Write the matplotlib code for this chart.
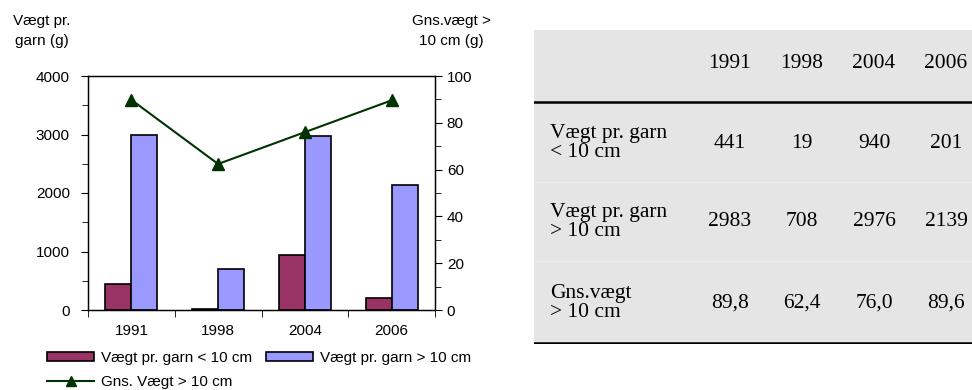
import matplotlib
matplotlib.use('Agg')
import matplotlib.pyplot as plt
import numpy as np
from matplotlib.lines import Line2D
from matplotlib.patches import Patch
from matplotlib.ticker import MultipleLocator

years = ['1991', '1998', '2004', '2006']
small_fish = [441, 19, 940, 201]        # Vægt pr. garn < 10 cm
large_fish = [2983, 708, 2976, 2139]    # Vægt pr. garn > 10 cm
mean_weight = [89.8, 62.4, 76.0, 89.6]  # Gns. vægt > 10 cm
mean_labels = ['89,8', '62,4', '76,0', '89,6']

row_labels = ['Vægt pr. garn\n< 10 cm', 'Vægt pr. garn\n> 10 cm', 'Gns.vægt\n> 10 cm']

MAROON = '#993366'
LAVENDER = '#9999FF'
GREEN = '#003300'

plt.rcParams['font.family'] = ['Liberation Sans', 'DejaVu Sans']
plt.rcParams['font.size'] = 11

W, H = 972, 390
fig = plt.figure(figsize=(W / 100, H / 100), dpi=100)


def px_box(x0, y0, x1, y1):
    return [x0 / W, 1 - y1 / H, (x1 - x0) / W, (y1 - y0) / H]


# --- combo chart -----------------------------------------------------------
ax = fig.add_axes(px_box(88, 76, 435, 310))
x = np.arange(len(years))
bw = 0.3
ax.bar(x - bw / 2, small_fish, bw, color=MAROON, edgecolor='black', linewidth=1.2)
ax.bar(x + bw / 2, large_fish, bw, color=LAVENDER, edgecolor='black', linewidth=1.2)
ax.set_xlim(-0.5, len(years) - 0.5)
ax.set_ylim(0, 4000)
ax.yaxis.set_major_locator(MultipleLocator(1000))
ax.yaxis.set_minor_locator(MultipleLocator(500))
ax.set_xticks(x)
ax.set_xticklabels(years)
ax.set_xticks(np.arange(-0.5, len(years)), minor=True)
ax.tick_params(axis='x', which='major', length=0, pad=10)
ax.tick_params(axis='x', which='minor', length=5, direction='out')
ax.tick_params(axis='y', which='major', length=5, direction='out', pad=8)
ax.tick_params(axis='y', which='minor', length=4, direction='out')

ax2 = ax.twinx()
ax2.plot(x, mean_weight, color=GREEN, linewidth=1.5, marker='^', markersize=9)
ax2.set_ylim(0, 100)
ax2.yaxis.set_major_locator(MultipleLocator(20))
ax2.yaxis.set_minor_locator(MultipleLocator(10))
ax2.tick_params(axis='y', which='major', length=5, direction='out')
ax2.tick_params(axis='y', which='minor', length=4, direction='out')

for a in (ax, ax2):
    for s in a.spines.values():
        s.set_linewidth(0.9)

fig.text(42 / W, 1 - 31 / H, 'Vægt pr.\ngarn (g)', ha='center', va='center',
         linespacing=1.55)
fig.text(451 / W, 1 - 31 / H, 'Gns.vægt >\n10 cm (g)', ha='center', va='center',
         linespacing=1.55)

handles = [
    Patch(facecolor=MAROON, edgecolor='black', linewidth=1.2),
    Line2D([], [], color=GREEN, linewidth=1.5, marker='^', markersize=7),
    Patch(facecolor=LAVENDER, edgecolor='black', linewidth=1.2),
]
labels = ['Vægt pr. garn < 10 cm', 'Gns. Vægt > 10 cm', 'Vægt pr. garn > 10 cm']
fig.legend(handles, labels, ncol=2, loc='center left',
           bbox_to_anchor=(47 / W, 1 - 370 / H), frameon=False, fontsize=11,
           handlelength=3.1, handleheight=0.5, handletextpad=0.45,
           columnspacing=0.9, labelspacing=0.7, borderpad=0, borderaxespad=0)

# --- data table ------------------------------------------------------------
tx0, ty0, tx1, ty1 = 534, 30, 972, 344
tab = fig.add_axes(px_box(tx0, ty0, tx1, ty1))
tab.set_xlim(tx0, tx1)
tab.set_ylim(ty1, ty0)
tab.axis('off')
tab.add_patch(plt.Rectangle((tx0, ty0), tx1 - tx0, ty1 - ty0,
                            facecolor='#E5E5E5', edgecolor='none', zorder=0))

col_x = [730, 802, 874, 946]
row_y = [143, 222, 303]
serif = ['Liberation Serif', 'DejaVu Serif']
tsize = 15.5

for cx, yr in zip(col_x, years):
    tab.text(cx, 63, yr, ha='center', va='center', family=serif, fontsize=tsize)

table_rows = [
    [str(v) for v in small_fish],
    [str(v) for v in large_fish],
    mean_labels,
]
for ry, lab, vals in zip(row_y, row_labels, table_rows):
    tab.text(550, ry, lab, ha='left', va='center', family=serif, fontsize=tsize,
             linespacing=1.05)
    for cx, v in zip(col_x, vals):
        tab.text(cx, ry, v, ha='center', va='center', family=serif, fontsize=tsize)

# faint cell separators
for sy in (182, 261):
    tab.plot([tx0, tx1], [sy, sy], color='#EDEDED', linewidth=1, zorder=1)
tab.plot([tx0, tx1], [102, 102], color='black', linewidth=1.8, zorder=2)
tab.plot([tx0, tx1], [343, 343], color='black', linewidth=1.8, zorder=2)

fig.savefig('out.png', dpi=100)
